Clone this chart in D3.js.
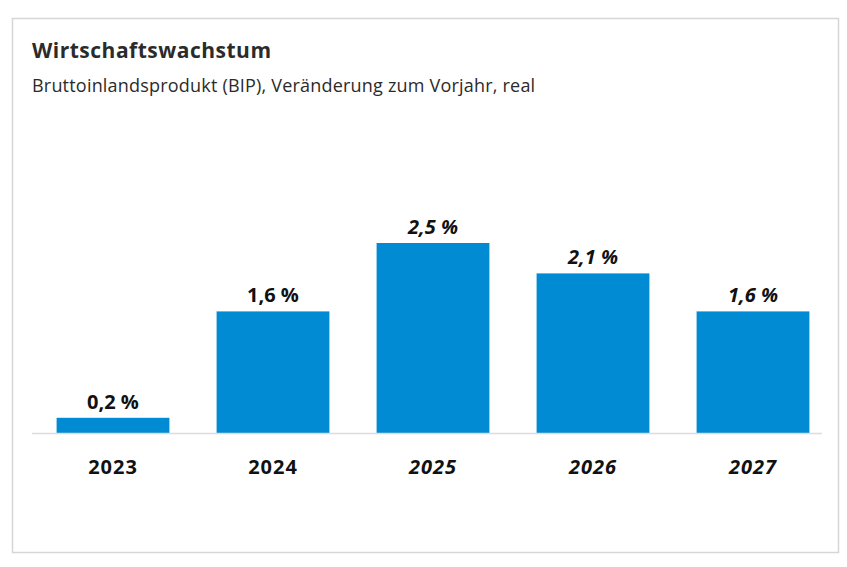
<!DOCTYPE html>
<html>
<head>
<meta charset="utf-8">
<script src="https://cdn.jsdelivr.net/npm/d3@7"></script>
<style>
  body { margin: 0; background: #fff; }
  svg { font-family: "Open Sans", "Noto Sans", sans-serif; }
</style>
</head>
<body>
<div id="chart"></div>
<script>
var years = ["2023", "2024", "2025", "2026", "2027"];
var growth = [0.2, 1.6, 2.5, 2.1, 1.6];
var forecast = [false, false, true, true, true];

var width = 847, height = 567;
var baseline = 433;

var svg = d3.select("#chart").append("svg")
    .attr("width", width)
    .attr("height", height);

// frame
svg.append("rect")
    .attr("x", 12.5).attr("y", 18.5)
    .attr("width", 826).attr("height", 534)
    .attr("fill", "#fff")
    .attr("stroke", "#d6d6d6")
    .attr("stroke-width", 1.5);

svg.append("text")
    .attr("x", 32).attr("y", 58)
    .attr("font-size", "21px")
    .attr("font-weight", 700)
    .attr("letter-spacing", "0.5px")
    .attr("fill", "#2b2b2b")
    .text("Wirtschaftswachstum");

svg.append("text")
    .attr("x", 32).attr("y", 92)
    .attr("font-size", "18px")
    .attr("letter-spacing", "0.2px")
    .attr("fill", "#2b2b2b")
    .text("Bruttoinlandsprodukt (BIP), Veränderung zum Vorjahr, real");

var x = d3.scaleBand()
    .domain(years)
    .range([33, 833])
    .paddingInner(0.295)
    .paddingOuter(0.1475);

var y = d3.scaleLinear()
    .domain([0, 2.5])
    .range([baseline, 243]);

var data = years.map(function(d, i) {
  return {year: d, value: growth[i], fc: forecast[i]};
});

svg.selectAll("rect.bar")
    .data(data).enter()
    .append("rect")
    .attr("class", "bar")
    .attr("x", function(d) { return x(d.year); })
    .attr("y", function(d) { return y(d.value); })
    .attr("width", x.bandwidth())
    .attr("height", function(d) { return y(0) - y(d.value); })
    .attr("fill", "#008bd2");

// baseline
svg.append("line")
    .attr("x1", 32).attr("x2", 822)
    .attr("y1", baseline + 0.5).attr("y2", baseline + 0.5)
    .attr("stroke", "#dcdcdc")
    .attr("stroke-width", 1.5);

var fmt = function(v) { return d3.format(".1f")(v).replace(".", ",") + " %"; };

svg.selectAll("text.val")
    .data(data).enter()
    .append("text")
    .attr("class", "val")
    .attr("x", function(d) { return x(d.year) + x.bandwidth() / 2; })
    .attr("y", function(d) { return y(d.value) - 9; })
    .attr("text-anchor", "middle")
    .attr("font-size", "20px")
    .attr("font-weight", 700)
    .attr("font-style", function(d) { return d.fc ? "italic" : "normal"; })
    .attr("fill", "#111")
    .text(function(d) { return fmt(d.value); });

svg.selectAll("text.year")
    .data(data).enter()
    .append("text")
    .attr("class", "year")
    .attr("x", function(d) { return x(d.year) + x.bandwidth() / 2; })
    .attr("y", 474)
    .attr("text-anchor", "middle")
    .attr("font-size", "20px")
    .attr("font-weight", 700)
    .attr("letter-spacing", "1px")
    .attr("font-style", function(d) { return d.fc ? "italic" : "normal"; })
    .attr("fill", "#111")
    .text(function(d) { return d.year; });
</script>
</body>
</html>
